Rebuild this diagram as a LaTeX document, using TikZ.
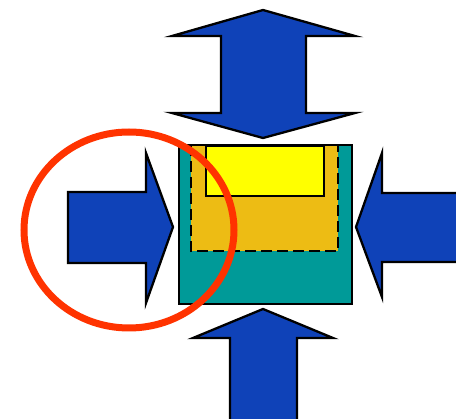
\documentclass[tikz,border=0pt]{standalone}
\definecolor{arrowblue}{HTML}{0F42B8}
\definecolor{tealbox}{HTML}{009A98}
\definecolor{amberbox}{HTML}{EDBC14}
\definecolor{yellowbox}{HTML}{FFFF00}
\definecolor{ringred}{HTML}{FF3300}
\tikzset{
  arrowshape/.style={fill=arrowblue, draw=black, line width=2.3pt, line join=miter},
  boxline/.style={draw=black, line width=2.2pt},
}
\begin{document}
\begin{tikzpicture}[x=1pt,y=-1pt]
\useasboundingbox (0,0) rectangle (456,419);
% top double arrow
\draw[arrowshape] (263,10) -- (355,36) -- (306,36) -- (306,113) -- (355,113) -- (263,138)
  -- (172,113) -- (221,113) -- (221,36) -- (172,36) -- cycle;
% left arrow
\draw[arrowshape] (68,192) -- (146,192) -- (146,153) -- (173,227) -- (146,303) -- (146,263) -- (68,263) -- cycle;
% right arrow
\draw[arrowshape] (460,193) -- (382,193) -- (382,153) -- (356,227) -- (382,297) -- (382,262) -- (460,262);
% bottom arrow
\draw[arrowshape] (230,425) -- (230,338) -- (193,338) -- (263,309) -- (333,338) -- (297,338) -- (297,425);
% boxes
\fill[tealbox] (179,145) rectangle (352,304);
\fill[amberbox] (191,145) rectangle (338,251);
\draw[black, line width=2.6pt, dash pattern=on 11pt off 5pt] (191,145) rectangle (338,251);
\draw[boxline, fill=yellowbox] (206,146) rectangle (324,196);
\draw[boxline] (179,145) rectangle (352,304);
% red ring
\draw[ringred, line width=7pt] (129,230) ellipse [x radius=105, y radius=98];
\end{tikzpicture}
\end{document}
